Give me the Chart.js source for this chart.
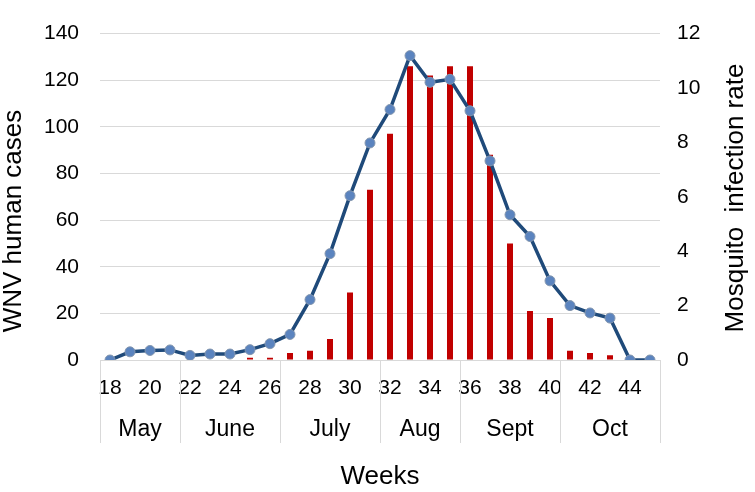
<!DOCTYPE html>
<html>
<head>
<meta charset="utf-8">
<script src="https://cdn.jsdelivr.net/npm/chart.js@4/dist/chart.umd.min.js"></script>
<style>
  html, body { margin: 0; padding: 0; background: #fff; }
  #wrap { width: 755px; height: 492px; }
</style>
</head>
<body>
<div id="wrap"><canvas id="wnvChart" width="755" height="492"></canvas></div>
<script>
// epi weeks 18..45
const weeks = ['18','19','20','21','22','23','24','25','26','27','28','29','30','31',
               '32','33','34','35','36','37','38','39','40','41','42','43','44','45']
// WNV human cases per week (left axis)
const humanCases = [0,0,0,0,0,0,0,1,1,3,4,9,29,73,97,126,122,126,126,88,50,21,18,4,3,2,0,0]
// mosquito infection rate (right axis)
const infectionRate = [0,0.3,0.35,0.37,0.17,0.22,0.22,0.38,0.6,0.94,2.22,3.91,6.04,7.98,
                       9.21,11.19,10.21,10.32,9.16,7.32,5.34,4.54,2.91,2.0,1.73,1.54,0,0]
// months under the week axis, and how many weeks each one spans
const months = ['May','June','July','Aug','Sept','Oct']
const monthWeeks = [4,5,5,4,5,5]

const FONT = "'Liberation Sans', Arial, sans-serif"
const gridGray = '#D9D9D9'

// month row + separators, and the two rotated y titles
const monthRow = {
    id: 'monthRow',
    afterDraw(chart) {
        const ctx = chart.ctx
        const x = chart.scales.x
        const bottom = chart.chartArea.bottom
        ctx.save()
        ctx.strokeStyle = gridGray
        ctx.lineWidth = 1
        let start = 0
        const edges = [start]
        monthWeeks.forEach(n => { start += n; edges.push(start) })
        edges.forEach(e => {
            const px = Math.round(x.getPixelForValue(e - 0.5)) + 0.5
            ctx.beginPath()
            ctx.moveTo(px, bottom)
            ctx.lineTo(px, bottom + 83)
            ctx.stroke()
        })
        ctx.fillStyle = '#000'
        ctx.font = '23px ' + FONT
        ctx.textAlign = 'center'
        ctx.textBaseline = 'alphabetic'
        months.forEach((m, i) => {
            const a = x.getPixelForValue(edges[i] - 0.5)
            const b = x.getPixelForValue(edges[i + 1] - 0.5)
            ctx.fillText(m, (a + b) / 2, bottom + 76)
        })

        // y titles, both read bottom-to-top
        ctx.font = '26px ' + FONT
        ctx.textBaseline = 'middle'
        ctx.save()
        ctx.translate(14, 221)
        ctx.rotate(-Math.PI / 2)
        ctx.fillText('WNV human cases', 0, 0)
        ctx.restore()
        ctx.save()
        ctx.translate(736, 198)
        ctx.rotate(-Math.PI / 2)
        ctx.fillText('Mosquito  infection rate', 0, 0)
        ctx.restore()
        ctx.restore()
    }
}

let ctx = document.getElementById('wnvChart').getContext('2d')

const wnvChart = new Chart(ctx, {
    type: 'bar',
    data: {
        labels: weeks,
        datasets: [{
            type: 'line',
            label: 'Mosquito infection rate',
            data: infectionRate,
            yAxisID: 'y1',
            borderColor: '#1F4A7A',
            borderWidth: 3.5,
            pointRadius: 5,
            pointBackgroundColor: '#5B84BF',
            pointBorderColor: '#8496AE',
            pointBorderWidth: 1,
            tension: 0,
            order: 1
        },
        {
            label: 'WNV human cases',
            data: humanCases,
            yAxisID: 'y',
            backgroundColor: '#C00000',
            categoryPercentage: 1,
            barPercentage: 0.3,
            order: 2
        }]
    },
    options: {
        responsive: false,
        animation: false,
        layout: { padding: { top: 14, left: 0, right: 0, bottom: 0 } },
        plugins: {
            legend: { display: false },
            tooltip: { enabled: false }
        },
        scales: {
            x: {
                afterFit: s => { s.height = 132 },
                grid: { display: false, drawTicks: false },
                border: { display: true, color: gridGray, width: 1 },
                ticks: {
                    autoSkip: false,
                    maxRotation: 0,
                    padding: 16,
                    color: '#000',
                    font: { family: FONT, size: 21 },
                    callback: function (v, i) {
                        const w = weeks[i]
                        return Number(w) % 2 === 0 ? w : ''
                    }
                },
                title: {
                    display: true,
                    text: 'Weeks',
                    color: '#000',
                    font: { family: FONT, size: 26 },
                    padding: { top: 0, bottom: 0 }
                }
            },
            y: {
                position: 'left',
                min: 0,
                max: 140,
                afterFit: s => { s.width = 100 },
                grid: { color: gridGray, drawTicks: false },
                border: { display: false },
                ticks: {
                    stepSize: 20,
                    padding: 21,
                    color: '#000',
                    font: { family: FONT, size: 21 }
                }
            },
            y1: {
                position: 'right',
                min: 0,
                max: 12,
                afterFit: s => { s.width = 95 },
                grid: { display: false, drawTicks: false },
                border: { display: false },
                ticks: {
                    stepSize: 2,
                    padding: 17,
                    color: '#000',
                    font: { family: FONT, size: 21 }
                }
            }
        }
    },
    plugins: [monthRow]
})
</script>
</body>
</html>
